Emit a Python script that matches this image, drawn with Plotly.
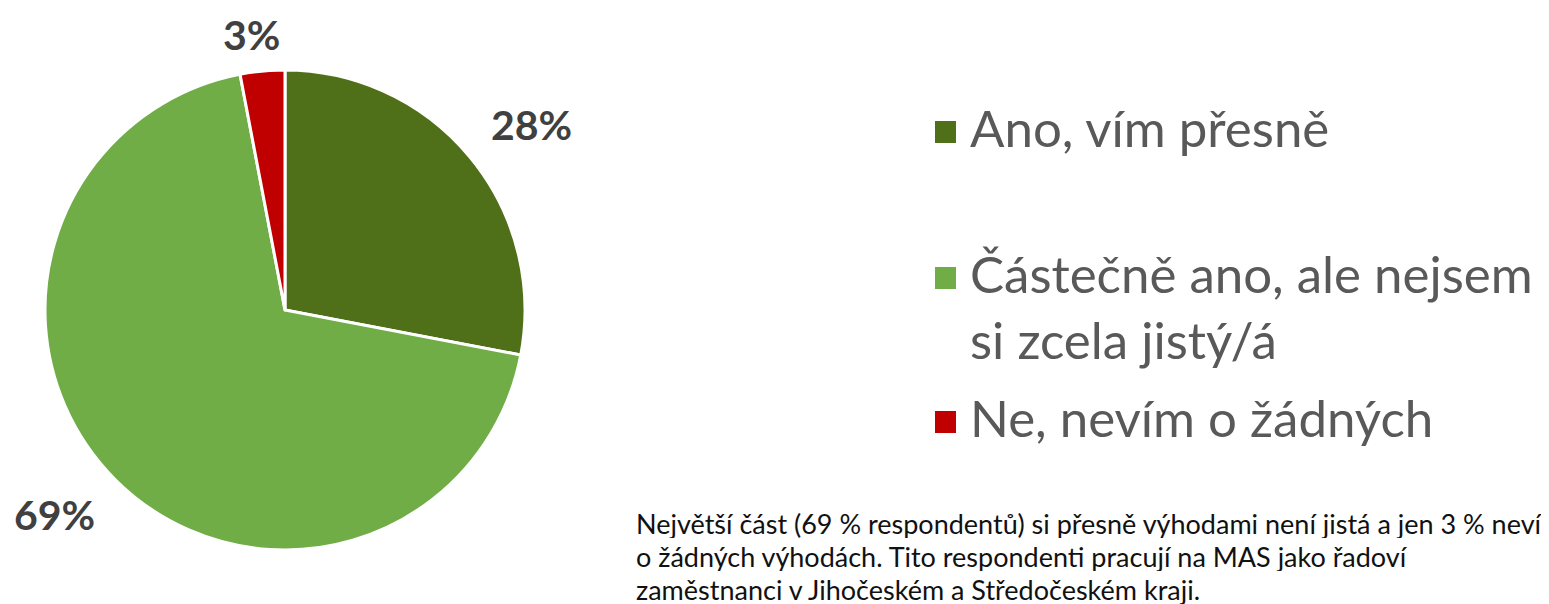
import math
import plotly.graph_objects as go

categories = ["Ano, vím přesně", "Částečně ano, ale nejsem<br>si zcela jistý/á", "Ne, nevím o žádných"]
values = [28, 69, 3]
colors = ["#4F6F18", "#70AD47", "#C00000"]
note_lines = [
    "Největší část (69 % respondentů) si přesně výhodami není jistá a jen 3 % neví",
    "o žádných výhodách. Tito respondenti pracují na MAS jako řadoví",
    "zaměstnanci v Jihočeském a Středočeském kraji.",
]

W, H = 1549, 604
OFF = 8  # page body margin
FONT = "Lato"
cx, cy, R = 285 - OFF, 310 - OFF, 240  # pie centre/radius in pixels


def px(x):
    return (x - OFF) / W


def py(y):
    return 1 - (y - OFF) / H


def clip1(t):
    return max(-1.0, min(1.0, t))


fig = go.Figure()
fig.add_trace(go.Pie(
    labels=categories, values=values, sort=False, direction="clockwise", rotation=0,
    marker=dict(colors=colors, line=dict(color="white", width=3)),
    textinfo="none", hoverinfo="label+percent", showlegend=False,
    domain=dict(x=[(cx - R) / W, (cx + R) / W], y=[1 - (cy + R) / H, 1 - (cy - R) / H]),
))

# percentage labels: box placed just outside each slice's mid-angle point
total = sum(values)
cum = 0
annotations = []
gap, hw, hh = 10, 54, 27
for v in values:
    mid = (cum + v / 2) / total * 2 * math.pi
    cum += v
    s, c = math.sin(mid), math.cos(mid)
    lx = cx + (R + gap) * s + hw * clip1(s / 0.5)
    ly = cy - (R + gap) * c - hh * clip1(c / 0.5)
    annotations.append(dict(
        x=lx / W, y=1 - ly / H, xref="paper", yref="paper", xanchor="center", yanchor="middle",
        text=f"<b>{round(v / total * 100)}%</b>", showarrow=False, height=40,
        font=dict(family=FONT, size=41, color="#404040"),
    ))

# legend
legend_y = [132, 278, 422]
shapes = []
for i, (lab, col) in enumerate(zip(categories, colors)):
    y = legend_y[i]
    shapes.append(dict(type="rect", xref="paper", yref="paper",
                       x0=px(935), x1=px(956), y0=py(y + 11), y1=py(y - 11),
                       fillcolor=col, line=dict(width=0)))
    annotations.append(dict(
        x=px(968), y=py(y - 37), xref="paper", yref="paper", xanchor="left", yanchor="top",
        text=lab, showarrow=False, align="left",
        font=dict(family=FONT, size=51, color="#595959"),
    ))

note_y = [523, 556, 589]
for line, y in zip(note_lines, note_y):
    annotations.append(dict(
        x=px(634), y=py(y), xref="paper", yref="paper", xanchor="left", yanchor="middle",
        text=line, showarrow=False, align="left", height=30,
        font=dict(family=FONT, size=27, color="#111111"),
    ))

fig.update_layout(
    width=W, height=H, margin=dict(l=0, r=0, t=0, b=0),
    paper_bgcolor="white", plot_bgcolor="white",
    annotations=annotations, shapes=shapes,
)
fig.write_html("out.html")
